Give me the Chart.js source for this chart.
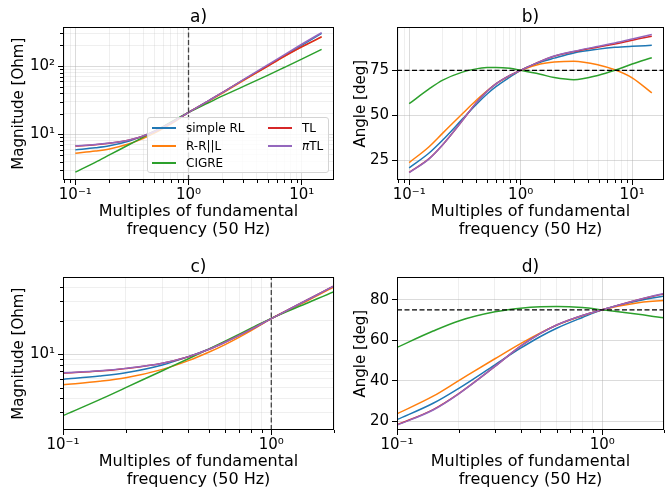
<!DOCTYPE html>
<html>
<head>
<meta charset="utf-8">
<script src="https://cdn.jsdelivr.net/npm/chart.js@4.4.1/dist/chart.umd.min.js"></script>
<style>
  body { margin: 0; background: #fff; width: 665px; height: 493px; position: relative; overflow: hidden; font-family: "DejaVu Sans", sans-serif; }
  canvas { position: absolute; }
  #legend { position: absolute; left: 147px; top: 117px; width: 182px; height: 56px; box-sizing: border-box;
            background: rgba(255,255,255,0.8); border: 1px solid #d4d4d4; border-radius: 3px; font-size: 12px; color: #000; }
  #legend .item { position: absolute; height: 16px; line-height: 16px; white-space: nowrap; }
  #legend .swatch { position: absolute; top: 7px; width: 24px; height: 2px; }
  #legend .label { position: absolute; }
</style>
</head>
<body>
<canvas id="chart-a" width="340" height="250" style="left:0;top:0"></canvas>
<canvas id="chart-b" width="335" height="250" style="left:330px;top:0"></canvas>
<canvas id="chart-c" width="340" height="243" style="left:0;top:250px"></canvas>
<canvas id="chart-d" width="335" height="243" style="left:330px;top:250px"></canvas>
<div id="legend"></div>
<script>
// 频率点 (基波倍数)
const freq = [0.1, 0.15, 0.2, 0.3, 0.4, 0.5, 0.6, 0.8, 1, 1.5, 2, 3, 5, 7, 10, 15];

// 阻抗幅值 [Ohm]
const magSimpleRL = [5.93, 6.35, 6.8, 8.0, 9.5, 11.1, 12.9, 16.8, 20.9, 30.8, 40.8, 61, 101, 141, 201, 300];
const magRRL      = [5.31, 5.7, 6.13, 7.3, 8.75, 10.4, 12.2, 16.3, 20.9, 30.4, 40.3, 60.3, 99, 137, 190, 265];
const magCIGRE    = [2.8, 3.9, 5.0, 7.1, 9.1, 11.1, 13.1, 17.1, 21, 29, 36.5, 49.5, 73, 95, 126, 175];
const magTL       = [6.75, 7.04, 7.42, 8.28, 9.48, 11.0, 12.8, 16.7, 20.9, 31, 41, 61.5, 100, 138, 190, 269];
const magPiTL     = [6.8, 7.08, 7.45, 8.3, 9.5, 11.0, 12.8, 16.7, 20.9, 31, 41, 62, 104, 146, 208, 308];

// 阻抗角 [deg]
const angSimpleRL = [20.7, 28.8, 36.2, 47.8, 56, 61.8, 65.9, 71.2, 75, 79.5, 81.8, 84.7, 86.8, 87.8, 88.4, 88.9];
const angRRL      = [23.6, 32.3, 40, 50.8, 58.3, 63.6, 67.4, 72, 75, 78.5, 79.6, 80.1, 78, 75.3, 70.8, 62.4];
const angCIGRE    = [56.4, 64.5, 69.5, 74, 75.8, 76.5, 76.6, 76.1, 75, 72.8, 71, 69.8, 72.3, 75, 78.5, 82];
const angTL       = [18.2, 25.7, 33.6, 47, 57, 63.3, 67.5, 72.2, 75, 80, 82.8, 85.4, 88, 89.6, 91.8, 94];
const angPiTL     = [18, 25.5, 33.5, 47, 57, 63.3, 67.5, 72.2, 75, 80, 83, 85.6, 88.4, 90.2, 92.4, 95];

const seriesNames  = ['simple RL', 'R-R||L', 'CIGRE', 'TL', 'πTL'];
const seriesColors = ['#1f77b4', '#ff7f0e', '#2ca02c', '#d62728', '#9467bd'];
const magSeries = [magSimpleRL, magRRL, magCIGRE, magTL, magPiTL];
const angSeries = [angSimpleRL, angRRL, angCIGRE, angTL, angPiTL];

const markerFreq  = 1;   // 基波处的竖直虚线
const markerAngle = 75;  // 75° 水平虚线

// 坐标轴范围
const xRangeFull = [0.0778, 19.3];
const xRangeZoom = [0.1, 2];
const yRangeMagFull = [2.15, 367];
const yRangeMagZoom = [2.08, 49];
const yRangeAngFull = [13.9, 98.9];
const yRangeAngZoom = [15.6, 91];
const angTicksFull = [25, 50, 75];
const angTicksZoom = [20, 40, 60, 80];

Chart.defaults.font.family = '"DejaVu Sans", sans-serif';
Chart.defaults.color = '#000';

const GRID_MAJOR = 'rgba(176,176,176,0.45)';
const GRID_MINOR = 'rgba(176,176,176,0.2)';
const SUP = { '-1': '⁻¹', '0': '⁰', '1': '¹', '2': '²' };

function logTicks(scale) {
    const out = [];
    const lo = Math.floor(Math.log10(scale.min));
    const hi = Math.ceil(Math.log10(scale.max));
    for (let e = lo; e <= hi; e++) {
        for (let m = 1; m <= 9; m++) {
            const v = parseFloat((m * Math.pow(10, e)).toPrecision(6));
            if (v >= scale.min && v <= scale.max) out.push({ value: v, major: m === 1 });
        }
    }
    scale.ticks = out;
}

function logLabel(v) {
    const e = Math.log10(v);
    return Math.abs(e - Math.round(e)) < 1e-9 ? '10' + SUP[Math.round(e)] : '';
}

function gridOpts() {
    return {
        color: c => (c.tick && c.tick.major) ? GRID_MAJOR : GRID_MINOR,
        lineWidth: 1,
        drawTicks: true,
        tickLength: 5,
        tickColor: c => (c.tick && c.tick.major) ? '#000' : 'rgba(0,0,0,0)',
        tickWidth: 1
    };
}

// 边框和次刻度
const framePlugin = {
    id: 'frame',
    afterDraw(chart) {
        const { ctx, chartArea: a } = chart;
        ctx.save();
        ctx.strokeStyle = '#000';
        ctx.lineWidth = 1;
        ctx.beginPath();
        chart.scales.x.ticks.forEach(t => {
            if (t.major) return;
            const px = Math.round(chart.scales.x.getPixelForValue(t.value)) + 0.5;
            ctx.moveTo(px, a.bottom);
            ctx.lineTo(px, a.bottom + 3);
        });
        chart.scales.y.ticks.forEach(t => {
            if (t.major) return;
            const py = Math.round(chart.scales.y.getPixelForValue(t.value)) + 0.5;
            ctx.moveTo(a.left, py);
            ctx.lineTo(a.left - 3, py);
        });
        ctx.stroke();
        ctx.strokeRect(Math.round(a.left) + 0.5, Math.round(a.top) + 0.5,
                       Math.round(a.right - a.left) - 1, Math.round(a.bottom - a.top) - 1);
        ctx.restore();
    }
};

function createPanel(id, cfg) {
    const datasets = [];
    // 参考虚线
    if (cfg.vline) {
        datasets.push({
            data: [{ x: markerFreq, y: cfg.yRange[0] }, { x: markerFreq, y: cfg.yRange[1] }],
            borderColor: '#444', borderDash: [5, 2.5], borderWidth: 1.3, pointRadius: 0, tension: 0, order: 0
        });
    } else {
        datasets.push({
            data: [{ x: cfg.xRange[0], y: markerAngle }, { x: cfg.xRange[1], y: markerAngle }],
            borderColor: '#000', borderDash: [5, 2.5], borderWidth: 1.3, pointRadius: 0, tension: 0, order: 0
        });
    }
    cfg.series.forEach((arr, i) => {
        datasets.push({
            label: seriesNames[i],
            data: freq.map((f, k) => ({ x: f, y: arr[k] })),
            borderColor: seriesColors[i],
            borderWidth: 1.5,
            pointRadius: 0,
            cubicInterpolationMode: 'monotone',
            order: 5 - i
        });
    });

    const yScale = cfg.yTicks ? {
        type: 'linear',
        min: cfg.yRange[0], max: cfg.yRange[1],
        afterBuildTicks: s => { s.ticks = cfg.yTicks.map(v => ({ value: v, major: true })); },
        ticks: { font: { size: 15 }, padding: 3, autoSkip: false }
    } : {
        type: 'logarithmic',
        min: cfg.yRange[0], max: cfg.yRange[1],
        afterBuildTicks: logTicks,
        ticks: { font: { size: 15 }, padding: 3, autoSkip: false, callback: v => logLabel(v) }
    };
    yScale.grid = gridOpts();
    yScale.border = { display: false };
    yScale.title = { display: true, text: cfg.yTitle, font: { size: 15 }, padding: { top: cfg.yTitlePad, bottom: 0 } };
    yScale.afterFit = s => { s.width = cfg.yWidth; };

    return new Chart(document.getElementById(id), {
        type: 'line',
        data: { datasets: datasets },
        options: {
            responsive: false,
            animation: false,
            layout: { padding: { left: 0, right: cfg.padRight, top: 0, bottom: 0 } },
            plugins: {
                legend: { display: false },
                tooltip: { enabled: false },
                title: {
                    display: true, text: cfg.title, fullSize: false,
                    font: { size: 17, weight: 'normal' }, color: '#000',
                    padding: { top: 7, bottom: 0 }
                }
            },
            scales: {
                x: {
                    type: 'logarithmic',
                    min: cfg.xRange[0], max: cfg.xRange[1],
                    afterBuildTicks: logTicks,
                    ticks: { font: { size: 15 }, padding: 1, autoSkip: false, maxRotation: 0, minRotation: 0,
                             callback: v => logLabel(v) },
                    grid: gridOpts(),
                    border: { display: false },
                    title: { display: true, text: ['Multiples of fundamental', 'frequency (50 Hz)'],
                             font: { size: 16, lineHeight: 1.1 }, padding: { top: 0, bottom: cfg.xTitlePad } },
                    afterFit: s => { s.height = cfg.xHeight; }
                },
                y: yScale
            }
        },
        plugins: [framePlugin]
    });
}

const charts = {
    a: createPanel('chart-a', { title: 'a)', series: magSeries, vline: true, xRange: xRangeFull, yRange: yRangeMagFull,
        yTitle: 'Magnitude [Ohm]', yTitlePad: 10.5, yWidth: 63, padRight: 6, xHeight: 70, xTitlePad: 11.5 }),
    b: createPanel('chart-b', { title: 'b)', series: angSeries, vline: false, xRange: xRangeFull, yRange: yRangeAngFull,
        yTicks: angTicksFull, yTitle: 'Angle [deg]', yTitlePad: 22, yWidth: 67, padRight: 1, xHeight: 70, xTitlePad: 11.5 }),
    c: createPanel('chart-c', { title: 'c)', series: magSeries, vline: true, xRange: xRangeZoom, yRange: yRangeMagZoom,
        yTitle: 'Magnitude [Ohm]', yTitlePad: 10.5, yWidth: 63, padRight: 6, xHeight: 63, xTitlePad: 4.5 }),
    d: createPanel('chart-d', { title: 'd)', series: angSeries, vline: false, xRange: xRangeZoom, yRange: yRangeAngZoom,
        yTicks: angTicksZoom, yTitle: 'Angle [deg]', yTitlePad: 22, yWidth: 67, padRight: 1, xHeight: 63, xTitlePad: 4.5 })
};

// 图例 (两列)
const legend = document.getElementById('legend');
const legendCols = [[0, 1, 2], [3, 4]];
const colX = [4, 120];
const rowY = [2, 19.5, 37];
legendCols.forEach((col, ci) => {
    col.forEach((si, ri) => {
        const item = document.createElement('div');
        item.className = 'item';
        item.style.left = colX[ci] + 'px';
        item.style.top = rowY[ri] + 'px';
        const sw = document.createElement('span');
        sw.className = 'swatch';
        sw.style.left = '0px';
        sw.style.background = seriesColors[si];
        const lb = document.createElement('span');
        lb.className = 'label';
        lb.style.left = '34px';
        const name = seriesNames[si];
        if (name.startsWith('π')) {
            const it = document.createElement('i');
            it.textContent = 'π';
            lb.appendChild(it);
            lb.appendChild(document.createTextNode(name.slice(1)));
        } else {
            lb.textContent = name;
        }
        item.appendChild(sw);
        item.appendChild(lb);
        legend.appendChild(item);
    });
});
</script>
</body>
</html>
